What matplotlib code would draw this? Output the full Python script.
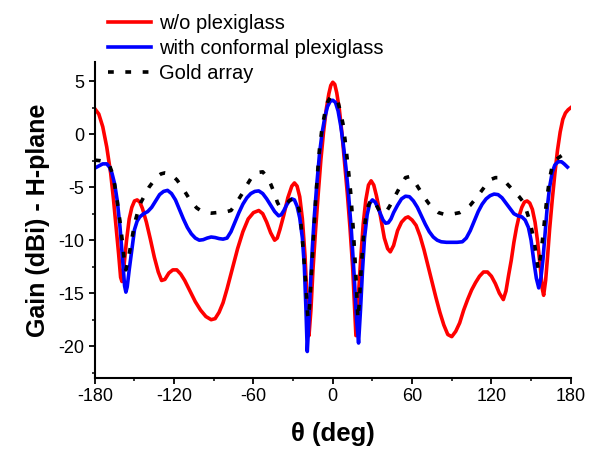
import matplotlib.pyplot as plt

plt.rcParams['font.family'] = ['Liberation Sans', 'DejaVu Sans']
plt.rcParams['axes.unicode_minus'] = False

# values (theta in deg, gain in dBi)
theta_red = [-180, -177, -174, -171, -168, -166, -164, -162, -160.5, -159.5,
             -158, -156, -154, -152, -150, -148, -146, -144, -141, -138,
             -135, -132, -129.5, -127, -124, -121, -118, -115, -112, -108,
             -104, -100, -96, -92, -89, -86, -83, -80, -76, -72,
             -68, -64, -60, -56, -53, -50, -47, -44, -42, -40,
             -37, -34, -31, -29, -27, -25, -23, -21, -19.5, -18,
             -16.5, -15, -13, -11, -9, -7, -5, -3, -1.5, 0,
             1.5, 3, 5, 7, 9, 11, 13, 15, 16.5, 17.5,
             19, 21, 23, 25, 27, 29, 31, 33, 35, 37,
             39, 41.5, 43.5, 46, 49, 52, 55, 57, 60, 63,
             66, 69, 72, 75, 78, 81, 84, 87, 90, 93,
             96, 99, 102, 105, 108, 111, 114, 117, 120, 123,
             126, 129, 131, 133, 135, 137, 139, 141, 143, 145,
             147, 149, 151, 153, 155, 157, 158.5, 159.5, 161, 162.5,
             164, 166, 168, 170, 172, 174, 176, 178, 180]
gain_red = [2.4, 1.9, 0.7, -1.2, -3.7, -6.0, -8.6, -11.3, -13.5, -13.9,
            -12.5, -10.0, -8.0, -6.9, -6.3, -6.2, -6.4, -7.0, -8.3, -9.9,
            -11.6, -13.0, -13.8, -13.7, -13.1, -12.8, -12.8, -13.2, -13.8, -14.8,
            -15.8, -16.6, -17.2, -17.5, -17.4, -16.8, -15.9, -14.6, -12.7, -10.8,
            -9.2, -8.0, -7.4, -7.2, -7.5, -8.3, -9.3, -10.0, -9.8, -9.0,
            -7.6, -6.0, -4.9, -4.6, -4.9, -5.9, -8.0, -11.5, -15.5, -19.0,
            -16.5, -12.8, -9.0, -5.6, -2.4, 0.2, 2.3, 3.8, 4.6, 4.9,
            4.7, 3.9, 2.3, 0.0, -2.8, -5.6, -8.8, -12.5, -16.5, -19.0,
            -16.0, -12.0, -8.5, -6.2, -4.8, -4.4, -4.8, -5.8, -7.0, -8.4,
            -9.8, -10.8, -11.1, -10.5, -9.1, -8.3, -7.9, -7.8, -8.1, -8.6,
            -9.6, -10.9, -12.4, -13.9, -15.4, -16.8, -18.0, -18.9, -19.1, -18.6,
            -17.8, -16.6, -15.6, -14.7, -14.0, -13.4, -13.0, -13.0, -13.4, -14.1,
            -15.0, -15.6, -14.8, -13.3, -11.9, -10.2, -8.8, -7.7, -6.9, -6.4,
            -6.3, -6.5, -7.1, -8.3, -10.2, -12.6, -14.6, -15.2, -13.8, -11.5,
            -9.0, -6.2, -3.7, -1.5, 0.2, 1.4, 2.0, 2.3, 2.5]

theta_blue = [-180, -177, -174, -171, -169, -167, -165, -163, -161, -159,
              -157.5, -156.5, -155.5, -154, -152, -150, -148, -146, -143, -140,
              -137, -134, -131, -128, -125, -122, -119, -116, -113, -110,
              -107, -104, -101, -98, -95, -92, -89, -86, -83, -80,
              -77, -74, -71, -68, -65, -62, -59, -56, -53, -50,
              -47, -44, -41, -39, -37, -35, -33, -31, -29, -27,
              -25, -23, -21.5, -20.3, -19.3, -18.2, -17, -15.5, -14, -12,
              -10, -8, -6, -4, -2, 0, 2, 4, 6, 8,
              10, 12, 14, 16, 18, 19.5, 21, 22.5, 24, 26,
              28, 30, 32, 34, 36, 38, 40, 42, 44, 46,
              49, 52, 55, 58, 61, 64, 67, 70, 73, 76,
              79, 82, 86, 90, 94, 98, 101, 104, 107, 110,
              113, 116, 119, 122, 125, 128, 131, 134, 137, 140,
              143, 145.5, 148, 150, 152, 154, 155.8, 157.5, 159, 160.5,
              162, 164, 166, 168, 170.5, 173, 175, 177.5]
gain_blue = [-3.2, -3.0, -2.8, -2.8, -3.1, -3.7, -4.7, -6.3, -8.7, -11.8,
             -14.3, -14.9, -14.4, -12.8, -10.9, -9.0, -8.2, -7.8, -7.5, -7.3,
             -6.9, -6.3, -5.7, -5.4, -5.3, -5.6, -6.2, -7.1, -8.0, -8.8,
             -9.4, -9.8, -10.0, -9.95, -9.8, -9.7, -9.75, -9.85, -9.9, -9.8,
             -9.2, -8.3, -7.4, -6.6, -6.0, -5.6, -5.4, -5.35, -5.6, -6.1,
             -6.7, -7.3, -7.7, -7.6, -7.2, -6.7, -6.3, -6.1, -6.2, -6.8,
             -7.9, -9.8, -12.5, -16.5, -20.5, -18.0, -14.5, -10.8, -7.8, -4.6,
             -1.8, 0.2, 1.6, 2.6, 3.1, 3.2, 3.0, 2.2, 0.8, -1.0,
             -3.2, -5.8, -9.0, -13.0, -17.5, -19.7, -16.5, -12.8, -9.8, -7.6,
             -6.5, -6.2, -6.4, -6.9, -7.5, -8.1, -8.4, -8.35, -8.0, -7.4,
             -6.7, -6.1, -5.85, -5.9, -6.3, -6.9, -7.7, -8.5, -9.2, -9.7,
             -10.0, -10.15, -10.2, -10.2, -10.2, -10.15, -9.8, -9.1, -8.2, -7.3,
             -6.6, -6.1, -5.8, -5.65, -5.7, -6.0, -6.5, -7.0, -7.5, -7.7,
             -7.8, -8.1, -8.8, -10.0, -11.9, -13.6, -14.5, -13.5, -11.8, -9.5,
             -7.2, -5.0, -3.6, -2.9, -2.6, -2.6, -2.8, -3.1]

theta_gold = [-180, -176, -172, -169, -167, -165, -163, -161, -159, -157.5,
              -156.5, -155, -153, -151, -149, -147, -145, -142, -139, -136,
              -133, -130, -127, -124, -121, -118, -115, -112, -109, -106,
              -103, -100, -96, -92, -88, -84, -80, -77, -74, -71,
              -68, -65, -62, -59, -56, -53, -50, -47, -44, -42,
              -40, -38, -35, -32, -29, -27, -25, -23.5, -22, -20.5,
              -19, -18.3, -17.2, -16, -14.5, -13, -11.5, -10, -8, -6,
              -4, -2, 0, 2, 4, 6, 8, 10, 12, 13.6,
              15.5, 17.4, 19, 20, 21.7, 23.5, 25, 27, 29.3, 31,
              33, 36, 38.5, 41, 43, 46, 49, 52, 55, 58,
              61, 64, 67, 70, 73, 76, 80, 84, 88, 92,
              96, 100, 104, 108, 111, 114, 117, 120, 123, 126,
              129, 132, 135, 138, 141, 143.5, 146, 148.5, 150.5, 152.5,
              154.5, 155.5, 157, 158.6, 160.3, 162, 164, 166, 168, 171,
              174.5, 178]
gain_gold = [-2.45, -2.5, -2.6, -2.9, -3.6, -4.8, -6.4, -8.2, -10.3, -12.2,
             -12.8, -12.0, -10.6, -9.2, -8.0, -7.1, -6.4, -5.7, -5.0, -4.5,
             -4.0, -3.75, -3.65, -3.7, -3.95, -4.3, -4.8, -5.4, -6.0, -6.5,
             -6.95, -7.2, -7.4, -7.45, -7.4, -7.4, -7.3, -7.2, -6.7, -6.1,
             -5.5, -4.8, -4.2, -3.8, -3.6, -3.55, -4.0, -4.7, -5.6, -6.4,
             -6.9, -6.8, -6.5, -6.2, -6.1, -6.3, -7.4, -9.2, -11.5, -14.0,
             -17.0, -17.4, -15.5, -12.8, -9.5, -6.3, -3.6, -1.3, 0.7, 2.0,
             3.0, 3.45, 3.55, 3.45, 3.0, 2.0, 0.8, -1.3, -3.6, -5.6,
             -9.0, -13.1, -17.4, -16.0, -12.2, -9.2, -7.8, -6.7, -6.1, -6.3,
             -6.7, -7.4, -7.5, -7.2, -6.8, -6.1, -5.4, -4.7, -4.1, -4.0,
             -4.3, -4.9, -5.5, -6.1, -6.6, -7.0, -7.4, -7.55, -7.55, -7.5,
             -7.4, -7.1, -6.7, -6.1, -5.6, -5.1, -4.6, -4.25, -4.1, -4.1,
             -4.3, -4.7, -5.1, -5.5, -5.9, -6.3, -7.0, -8.0, -9.0, -10.2,
             -12.0, -12.8, -11.6, -10.0, -8.0, -6.0, -4.2, -3.0, -2.5, -2.2,
             -1.9, -1.7]

labels = ['w/o plexiglass', 'with conformal plexiglass', 'Gold array']

fig = plt.figure(figsize=(5.89, 4.5), dpi=100)
ax = fig.add_axes([0.161, 0.16, 0.808, 0.702])

ax.plot(theta_red, gain_red, color='#ff0000', lw=2.6, label=labels[0])
ax.plot(theta_blue, gain_blue, color='#0000ff', lw=2.6, label=labels[1])
ax.plot(theta_gold, gain_gold, color='black', lw=2.6, ls=(0, (1.6, 3.2)), label=labels[2])

ax.set_xlim(-180, 180)
ax.set_ylim(-23, 6.8)
ax.set_xticks(range(-180, 181, 60))
ax.set_xticks(range(-180, 181, 30), minor=True)
ax.set_yticks([-20, -15, -10, -5, 0, 5])
ax.set_yticks([-22.5, -17.5, -12.5, -7.5, -2.5, 2.5], minor=True)

for side in ['top', 'right']:
    ax.spines[side].set_visible(False)
for side in ['left', 'bottom']:
    ax.spines[side].set_linewidth(1.5)
ax.tick_params(which='major', direction='out', length=4, width=1.3, labelsize=13)
ax.tick_params(which='minor', direction='out', length=2.5, width=1.1)

ax.set_xlabel('θ (deg)', fontsize=18.5, fontweight='bold', labelpad=12)
ax.set_ylabel('Gain (dBi) - H-plane', fontsize=18, fontweight='bold', labelpad=6)

fig.legend(loc='upper left', bbox_to_anchor=(0.16, 1.0), frameon=False,
           fontsize=14.5, handlelength=2.1, handletextpad=0.4, labelspacing=0.3,
           borderpad=0.2)

fig.savefig('out.png', dpi=100)
